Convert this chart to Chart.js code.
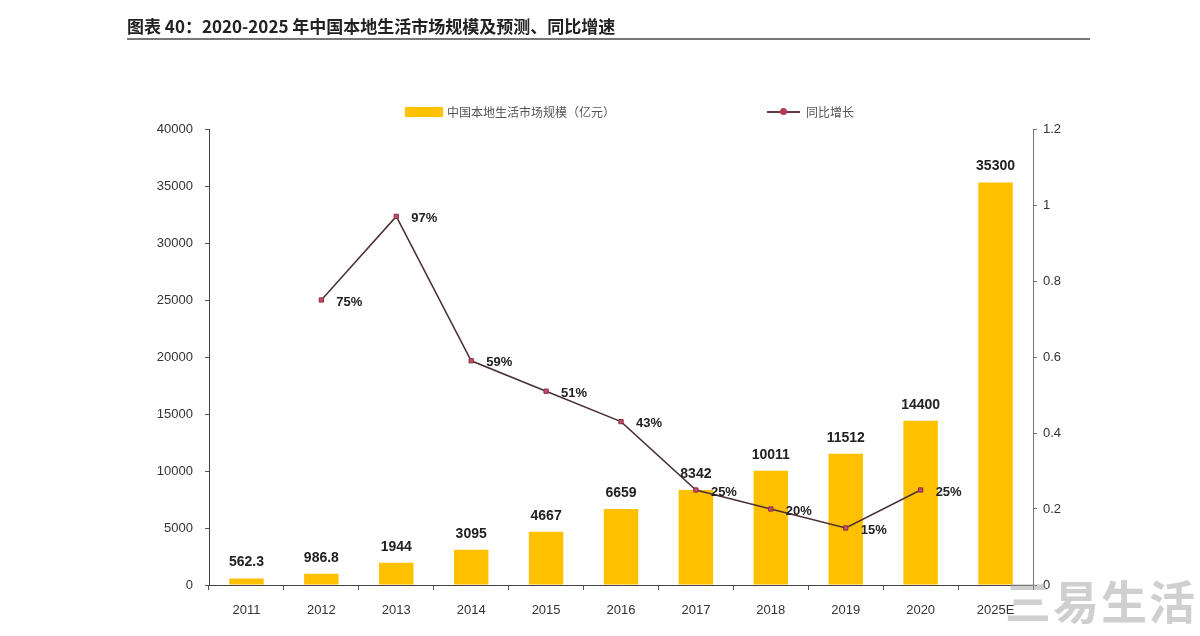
<!DOCTYPE html>
<html>
<head>
<meta charset="utf-8">
<script src="https://cdn.jsdelivr.net/npm/chart.js@4"></script>
<style>
  body { margin:0; background:#fff; font-family:"Liberation Sans", Arial, sans-serif; }
  #wrap { position:relative; width:1200px; height:636px; overflow:hidden; }
  #title {
    position:absolute; left:127px; top:15px; width:963px;
    font:bold 17px "Noto Sans CJK SC", sans-serif; color:#222;
    border-bottom:2px solid #777; padding-bottom:1px; line-height:22px;
  }
  .leg { position:absolute; top:103px; font:12px "Noto Sans CJK SC", sans-serif; color:#555; }
  .swatch { position:absolute; left:405px; top:107px; width:38px; height:10px; background:#FFC000; }
  .lline { position:absolute; left:767px; top:111px; width:33px; height:2px; background:#6a3a44; }
  .ldot { position:absolute; left:780px; top:108px; width:7px; height:7px; border-radius:50%; background:#b23a52; }
  #mark {
    position:absolute; left:1005px; top:566px;
    font:bold 46px "Noto Sans CJK SC", sans-serif; color:rgba(160,160,160,0.5); letter-spacing:2px;
  }
  canvas { position:absolute; left:0; top:0; }
</style>
</head>
<body>
<div id="wrap">
  <canvas id="chart" width="1200" height="636"></canvas>
  <div id="title">图表 40：2020-2025 年中国本地生活市场规模及预测、同比增速</div>
  <div class="swatch"></div>
  <div class="leg" style="left:447px;">中国本地生活市场规模（亿元）</div>
  <div class="lline"></div>
  <div class="ldot"></div>
  <div class="leg" style="left:806px;">同比增长</div>
  <div id="mark">三易生活</div>
</div>

<script>
// ---------------- Data ----------------

const years = ["2011","2012","2013","2014","2015","2016","2017","2018","2019","2020","2025E"];
const marketSize = [562.3, 986.8, 1944, 3095, 4667, 6659, 8342, 10011, 11512, 14400, 35300];
const growth = [null, 0.75, 0.97, 0.59, 0.51, 0.43, 0.25, 0.20, 0.15, 0.25, null];
const leftTicks = ["0","5000","10000","15000","20000","25000","30000","35000","40000"];
const rightTicks = ["0","0.2","0.4","0.6","0.8","1","1.2"];

// ---------------- Value labels ----------------

const valueLabels = {
  id: "valueLabels",
  afterDatasetsDraw(chart) {
    const ctx = chart.ctx;
    ctx.save();
    ctx.fillStyle = "#222";
    ctx.font = "bold 14px 'Liberation Sans', Arial, sans-serif";

    // bar values
    ctx.textAlign = "center";
    ctx.textBaseline = "bottom";
    chart.getDatasetMeta(0).data.forEach((bar, i) => {
      ctx.fillText(String(marketSize[i]), bar.x, bar.y - 9);
    });

    // growth percentages
    ctx.font = "bold 13px 'Liberation Sans', Arial, sans-serif";
    ctx.textAlign = "left";
    ctx.textBaseline = "middle";
    chart.getDatasetMeta(1).data.forEach((pt, i) => {
      if (growth[i] == null) return;
      ctx.fillText(Math.round(growth[i] * 100) + "%", pt.x + 15, pt.y + 2);
    });
    ctx.restore();
  }
};

// ---------------- Chart ----------------

const tickFont = { family: "'Liberation Sans', Arial, sans-serif", size: 13 };

new Chart(document.getElementById("chart"), {
  data: {
    labels: years,
    datasets: [
      {
        type: "bar",
        label: "中国本地生活市场规模（亿元）",
        data: marketSize,
        backgroundColor: "#FFC000",
        barPercentage: 0.46,
        categoryPercentage: 1,
        yAxisID: "y",
        order: 2
      },
      {
        type: "line",
        label: "同比增长",
        data: growth,
        borderColor: "#4a3036",
        borderWidth: 1.5,
        pointStyle: "rect",
        pointRadius: 3,
        pointBackgroundColor: "#c2506a",
        pointBorderColor: "#8e2a40",
        pointBorderWidth: 1,
        spanGaps: false,
        tension: 0,
        yAxisID: "y1",
        order: 1
      }
    ]
  },
  options: {
    responsive: false,
    animation: false,
    layout: { padding: { top: 129, left: 0, right: 0, bottom: 0 } },
    plugins: { legend: { display: false }, tooltip: { enabled: false } },
    scales: {
      x: {
        offset: true,
        grid: { display: true, drawOnChartArea: false, offset: true, tickLength: 5, color: "#555" },
        border: { display: true, color: "#444", width: 1 },
        ticks: { color: "#333", font: tickFont, padding: 13 },
        afterFit(scale) { scale.height = 51; }
      },
      y: {
        position: "left",
        min: 0,
        max: 40000,
        afterBuildTicks(scale) { scale.ticks = leftTicks.map(v => ({ value: Number(v) })); },
        grid: { display: true, drawOnChartArea: false, tickLength: 4, color: "#555" },
        border: { display: true, color: "#444", width: 1 },
        ticks: { color: "#333", font: tickFont, padding: 12, callback: (v, i) => leftTicks[i] },
        afterFit(scale) { scale.width = 209; }
      },
      y1: {
        position: "right",
        min: 0,
        max: 1.2,
        afterBuildTicks(scale) { scale.ticks = rightTicks.map(v => ({ value: Number(v) })); },
        grid: { display: true, drawOnChartArea: false, tickLength: 4, color: "#777" },
        border: { display: true, color: "#777", width: 1 },
        ticks: { color: "#333", font: tickFont, padding: 6, callback: (v, i) => rightTicks[i] },
        afterFit(scale) { scale.width = 167; }
      }
    }
  },
  plugins: [valueLabels]
});
</script>
</body>
</html>
